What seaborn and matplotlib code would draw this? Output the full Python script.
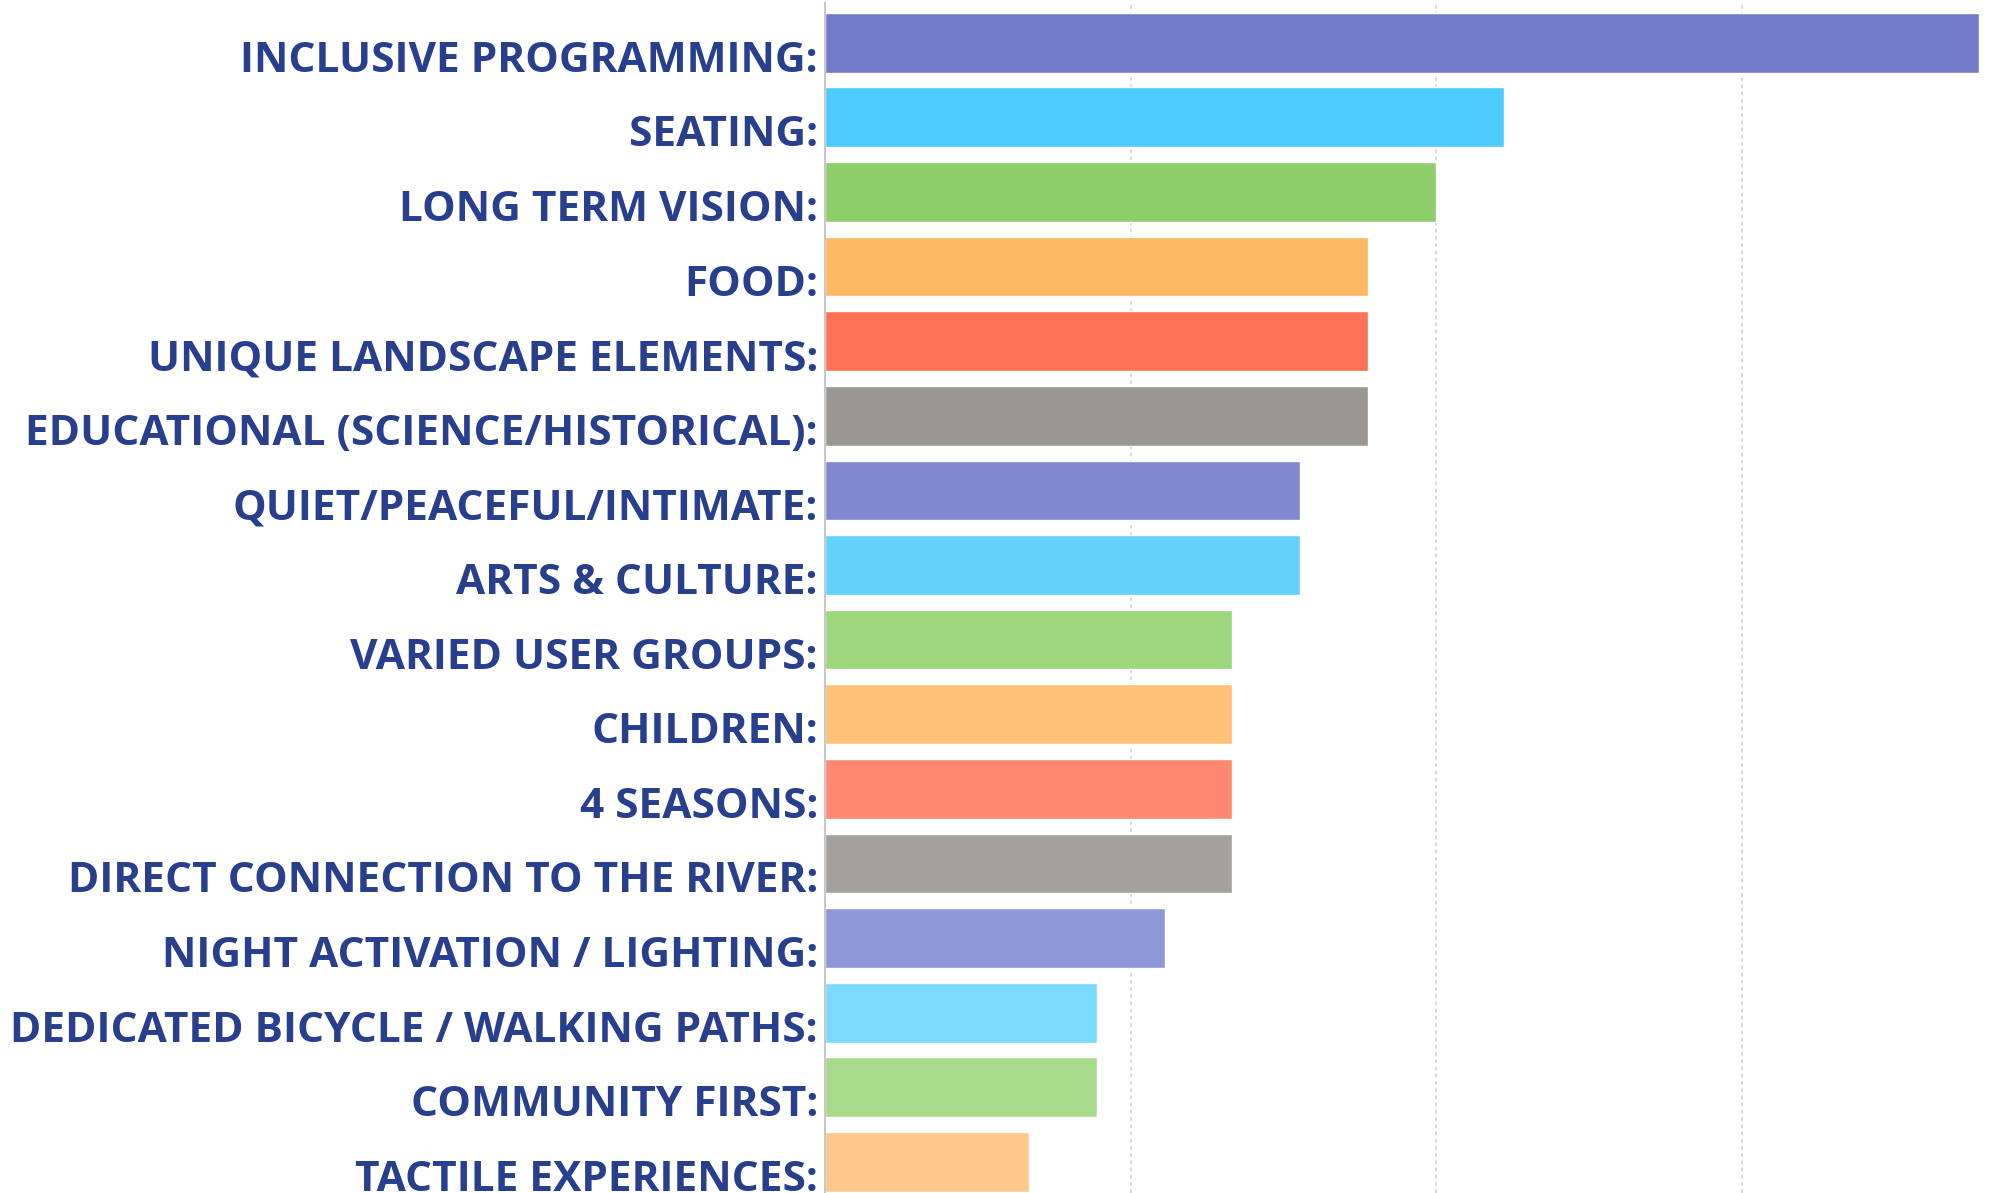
import matplotlib

matplotlib.use("Agg")
import matplotlib.pyplot as plt
import matplotlib.transforms as mtransforms
import pandas as pd
import seaborn as sns

CATEGORIES = [
    "INCLUSIVE PROGRAMMING:",
    "SEATING:",
    "LONG TERM VISION:",
    "FOOD:",
    "UNIQUE LANDSCAPE ELEMENTS:",
    "EDUCATIONAL (SCIENCE/HISTORICAL):",
    "QUIET/PEACEFUL/INTIMATE:",
    "ARTS & CULTURE:",
    "VARIED USER GROUPS:",
    "CHILDREN:",
    "4 SEASONS:",
    "DIRECT CONNECTION TO THE RIVER:",
    "NIGHT ACTIVATION / LIGHTING:",
    "DEDICATED BICYCLE / WALKING PATHS:",
    "COMMUNITY FIRST:",
    "TACTILE EXPERIENCES:",
]
COUNTS = [17, 10, 9, 8, 8, 8, 7, 7, 6, 6, 6, 6, 5, 4, 4, 3]
GRID_TICKS = [4.5, 9, 13.5]

BAR_COLORS = [
    "#727bc9", "#4ccbfd", "#8ecf6c", "#feb862", "#fe7258", "#9a9792",
    "#8088d0", "#62d2fd", "#9dd67f", "#ffc077", "#ff8870", "#a5a29e",
    "#8f98d6", "#7cdafe", "#a8da8c", "#ffc98b",
]
LABEL_COLOR = "#283f8e"

df = pd.DataFrame({"category": CATEGORIES, "count": COUNTS})

sns.set_style("white")
plt.rcParams["font.family"] = ["Open Sans", "DejaVu Sans"]

fig = plt.figure(figsize=(19.89, 11.93), dpi=100)
ax = fig.add_axes([825 / 1989, 0.0, 1 - 825 / 1989, 1 - 3 / 1193])

sns.barplot(
    data=df,
    y="category",
    x="count",
    hue="category",
    palette=BAR_COLORS,
    saturation=1,
    width=0.8,
    legend=False,
    ax=ax,
    zorder=2,
)

ax.set_xlim(0, 17.14)
ax.set_ylim(15.416, -0.532)
ax.set_xticks(GRID_TICKS)
ax.set_xticklabels([])
ax.set_yticks(range(len(CATEGORIES)))
ax.set_yticklabels([])
ax.tick_params(axis="both", length=0)
ax.set_xlabel("")
ax.set_ylabel("")
ax.grid(axis="x", color="#d6d6d6", linestyle=(0, (2, 2)), linewidth=1.3, zorder=0)
ax.set_axisbelow(True)

for side in ["top", "right", "bottom"]:
    ax.spines[side].set_visible(False)
ax.spines["left"].set_color("#c8c8c8")
ax.spines["left"].set_linewidth(1.5)

# labels sit a little below the bar centre, right-aligned against the axis
offset = mtransforms.ScaledTranslation(-7 / 100, -29 / 100, fig.dpi_scale_trans)
for i, label in enumerate(CATEGORIES):
    ax.text(
        0,
        i,
        label,
        transform=ax.get_yaxis_transform() + offset,
        ha="right",
        va="baseline",
        fontsize=30.5,
        fontweight="bold",
        color=LABEL_COLOR,
    )

fig.savefig("out.png", dpi=100)
